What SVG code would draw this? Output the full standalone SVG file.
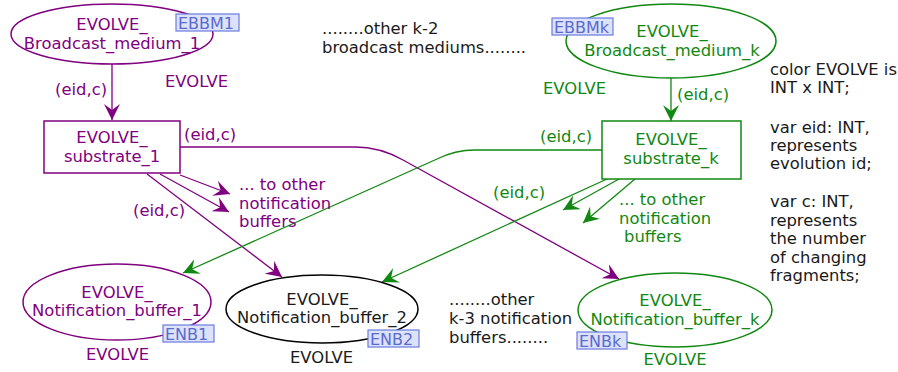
<svg xmlns="http://www.w3.org/2000/svg" width="898" height="372" viewBox="0 0 898 372">
<defs>
<marker id="ap" markerUnits="userSpaceOnUse" markerWidth="18" markerHeight="16" refX="16" refY="8" orient="auto"><path d="M0,0 L16,8 L0,16 L6,8 Z" fill="#800080"/></marker>
<marker id="ag" markerUnits="userSpaceOnUse" markerWidth="18" markerHeight="16" refX="16" refY="8" orient="auto"><path d="M0,0 L16,8 L0,16 L6,8 Z" fill="#118811"/></marker>
</defs>
<style>
text{font-family:"DejaVu Sans",Verdana,sans-serif;font-size:16.4px}
.p{fill:#800080}.g{fill:#118811}.k{fill:#1a1a1a}
.m{text-anchor:middle}
.sp{stroke:#800080;stroke-width:1.5;fill:#fff}
.sg{stroke:#118811;stroke-width:1.5;fill:#fff}
.sk{stroke:#000;stroke-width:1.5;fill:#fff}
.lp{stroke:#800080;stroke-width:1.3;fill:none;marker-end:url(#ap)}
.lg{stroke:#118811;stroke-width:1.3;fill:none;marker-end:url(#ag)}
.tag rect{fill:#dde2fb;stroke:#6b7be0;stroke-width:1.2}
.tag text{fill:#5a6ad0;font-size:16px}
</style>
<rect width="898" height="372" fill="#fff"/>
<g id="connectors">
<path class="lp" d="M112,63 V120"/>
<path class="lg" d="M671,78 V121"/>
<path class="lp" d="M180,147 H355 Q380,147 403,160 L619,279"/>
<path class="lp" d="M147,174 L282,277"/>
<path class="lp" d="M180,175 L230,194"/>
<path class="lp" d="M160,174 L229,212"/>
<path class="lg" d="M602,150 H475 Q455,150 437,159 L183,273"/>
<path class="lg" d="M607,179 L382,282"/>
<path class="lg" d="M619,179 L563,210"/>
<path class="lg" d="M635,179 L583,223"/>
<text class="p" x="55" y="95">(eid,c)</text>
<text class="p" x="184" y="140">(eid,c)</text>
<text class="p" x="133" y="216">(eid,c)</text>
<text class="g" x="677" y="100">(eid,c)</text>
<text class="g" x="540" y="142">(eid,c)</text>
<text class="g" x="493" y="198">(eid,c)</text>
</g>
<g id="EBBM1">
<ellipse class="sp" cx="112" cy="34" rx="101" ry="30"/>
<text class="p m" x="112" y="30">EVOLVE_</text>
<text class="p m" x="112" y="49">Broadcast_medium_1</text>
<g class="tag"><rect x="176" y="14" width="63" height="17"/><text x="178" y="29">EBBM1</text></g>
<text class="p" x="165" y="87">EVOLVE</text>
</g>
<g id="EBBMk">
<ellipse class="sg" cx="671" cy="41" rx="105" ry="37"/>
<text class="g m" x="672" y="37">EVOLVE_</text>
<text class="g m" x="672" y="56">Broadcast_medium_k</text>
<g class="tag"><rect x="552" y="18" width="61" height="17"/><text x="554" y="33">EBBMk</text></g>
<text class="g" x="543" y="94">EVOLVE</text>
</g>
<g id="substrate_1">
<rect class="sp" x="44" y="121" width="136" height="52"/>
<text class="p m" x="112" y="143">EVOLVE_</text>
<text class="p m" x="112" y="162">substrate_1</text>
</g>
<g id="substrate_k">
<rect class="sg" x="602" y="121" width="139" height="58"/>
<text class="g m" x="671" y="145">EVOLVE_</text>
<text class="g m" x="671" y="164">substrate_k</text>
</g>
<g id="ENB1">
<ellipse class="sp" cx="117" cy="302" rx="94" ry="38"/>
<text class="p m" x="117" y="298">EVOLVE_</text>
<text class="p m" x="117" y="316">Notification_buffer_1</text>
<g class="tag"><rect x="163" y="325" width="51" height="17"/><text x="165" y="340">ENB1</text></g>
<text class="p" x="86" y="360">EVOLVE</text>
</g>
<g id="ENB2">
<ellipse class="sk" cx="322" cy="309" rx="96" ry="34"/>
<text class="k m" x="322" y="305">EVOLVE_</text>
<text class="k m" x="322" y="323">Notification_buffer_2</text>
<g class="tag"><rect x="368" y="330" width="51" height="17"/><text x="370" y="345">ENB2</text></g>
<text class="k" x="290" y="363">EVOLVE</text>
</g>
<g id="ENBk">
<ellipse class="sg" cx="675" cy="310" rx="97" ry="37"/>
<text class="g m" x="675" y="306">EVOLVE_</text>
<text class="g m" x="675" y="325">Notification_buffer_k</text>
<g class="tag"><rect x="577" y="332" width="50" height="17"/><text x="579" y="347">ENBk</text></g>
<text class="g m" x="675" y="365">EVOLVE</text>
</g>
<g id="notes">
<text class="k" x="322" y="34">........other k-2</text>
<text class="k" x="322" y="53">broadcast mediums........</text>
<text class="p" x="239" y="190">... to other</text>
<text class="p" x="239" y="209">notification</text>
<text class="p" x="239" y="227">buffers</text>
<text class="g" x="619" y="205">... to other</text>
<text class="g" x="619" y="224">notification</text>
<text class="g" x="624" y="242">buffers</text>
<text class="k" x="449" y="305">........other</text>
<text class="k" x="449" y="324">k-3 notification</text>
<text class="k" x="449" y="343">buffers........</text>
<text class="k" x="770" y="75">color EVOLVE is</text>
<text class="k" x="770" y="93">INT x INT;</text>
<text class="k" x="770" y="133">var eid: INT,</text>
<text class="k" x="770" y="151">represents</text>
<text class="k" x="770" y="169">evolution id;</text>
<text class="k" x="770" y="207">var c: INT,</text>
<text class="k" x="770" y="226">represents</text>
<text class="k" x="770" y="244">the number</text>
<text class="k" x="770" y="263">of changing</text>
<text class="k" x="770" y="281">fragments;</text>
</g>
</svg>
